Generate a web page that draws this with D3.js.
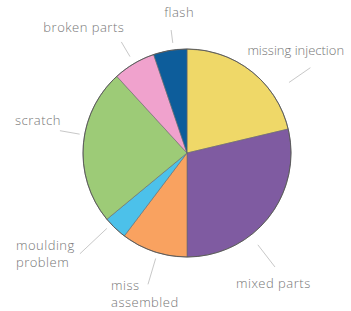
<!DOCTYPE html>
<html>
<head>
<meta charset="utf-8">
<script src="https://cdn.jsdelivr.net/npm/d3@7"></script>
<style>
  body { margin: 0; background: #fff; }
  svg { display: block; }
  .label { font-family: "Open Sans", sans-serif; font-size: 13px; font-weight: 300; letter-spacing: 0.5px; fill: #767676; }
</style>
</head>
<body>
<svg id="chart" width="351" height="311"></svg>
<script>
// defect categories, clockwise from 12 o'clock
const categories = ["missing injection", "mixed parts", "miss assembled", "moulding problem", "scratch", "broken parts", "flash"];
const shares = [21.3, 28.7, 10.3, 3.7, 24.2, 6.6, 5.2];
const colors = ["#efd868", "#7f5ba1", "#f9a260", "#4cc1ea", "#9dcb77", "#f0a2cd", "#0d5d9b"];

// label lines as they are broken in the picture
const labelLines = [
  ["missing injection"],
  ["mixed parts"],
  ["miss", "assembled"],
  ["moulding", "problem"],
  ["scratch"],
  ["broken parts"],
  ["flash"]
];

// leader layout: angle nudge (deg), start/end offset from rim, text offset from line end
const leader = [
  { nudge: 17, r0: 20, r1: 46, dx: -63, dy: -13, anchor: "start", spacing: "0px" },
  { nudge: 14, r0: 12, r1: 40, dx: -39, dy: 21, anchor: "start" },
  { nudge: -2, r0: 6, r1: 33, dx: -37, dy: 6, anchor: "start" },
  { nudge: 3, r0: 6, r1: 43, dx: -64, dy: -4, anchor: "start" },
  { nudge: 6, r0: 5, r1: 25, dx: 1, dy: -6, anchor: "end" },
  { nudge: 0, r0: 8, r1: 25, dx: 3, dy: -10, anchor: "end" },
  { nudge: 2, r0: 7, r1: 20, dx: -7, dy: -13, anchor: "start" }
];

const svg = d3.select("#chart");
const cx = 187, cy = 153, radius = 104;

const data = categories.map((c, i) => ({ name: c, value: shares[i] }));
const pie = d3.pie().value((d) => d.value).sort(null);
const arcs = pie(data);

const arc = d3.arc().innerRadius(0).outerRadius(radius);

const g = svg.append("g").attr("transform", `translate(${cx},${cy})`);

g.selectAll("path")
  .data(arcs)
  .join("path")
  .attr("d", arc)
  .attr("fill", (d, i) => colors[i])
  .attr("stroke", "#6a6a6a")
  .attr("stroke-width", 0.6);

// outer rim a bit darker
g.append("circle")
  .attr("r", radius)
  .attr("fill", "none")
  .attr("stroke", "#555")
  .attr("stroke-width", 0.9);

const point = (a, r) => [Math.sin(a) * r, -Math.cos(a) * r];

const labels = arcs.map((d, i) => {
  const L = leader[i];
  const a = (d.startAngle + d.endAngle) / 2 + (L.nudge * Math.PI) / 180;
  return { p0: point(a, radius + L.r0), p1: point(a, radius + L.r1), L, lines: labelLines[i] };
});

g.selectAll("line.leader")
  .data(labels)
  .join("line")
  .attr("class", "leader")
  .attr("x1", (d) => d.p0[0])
  .attr("y1", (d) => d.p0[1])
  .attr("x2", (d) => d.p1[0])
  .attr("y2", (d) => d.p1[1])
  .attr("stroke", "#c8c8c8")
  .attr("stroke-width", 1);

const txt = g.selectAll("text.label")
  .data(labels)
  .join("text")
  .attr("class", "label")
  .attr("text-anchor", (d) => d.L.anchor)
  .attr("x", (d) => d.p1[0] + d.L.dx)
  .attr("y", (d) => d.p1[1] + d.L.dy)
  .style("letter-spacing", (d) => d.L.spacing || null);

txt.selectAll("tspan")
  .data((d) => d.lines.map((s) => ({ s, x: d.p1[0] + d.L.dx })))
  .join("tspan")
  .attr("x", (d) => d.x)
  .attr("dy", (d, i) => (i === 0 ? 0 : 17))
  .text((d) => d.s);
</script>
</body>
</html>
